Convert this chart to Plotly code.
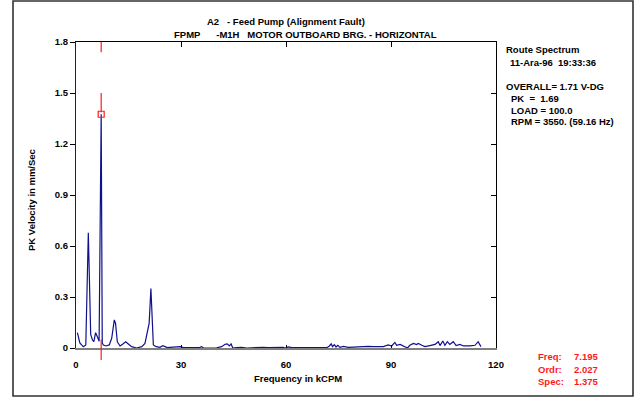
import plotly.graph_objects as go

# Spectrum trace: frequency in kCPM, PK velocity in mm/Sec
freq_kcpm = [
    0.4, 1.1, 1.6, 2.1, 2.8, 3.52, 4.2, 4.7, 5.1, 5.6, 6.1, 6.6, 7.195, 7.5, 7.8,
    8.6, 9.5, 10.2, 10.95, 11.3, 11.8, 12.6, 13.3, 14.2, 14.95, 15.9, 17.3, 18.8,
    19.7, 20.4, 20.9, 21.4, 22.1, 22.9, 24.0, 24.8, 25.4, 26.1, 26.8, 28.8, 29.7,
    30.7, 32.1, 33.5, 35.4, 35.9, 36.4, 38.3, 40.2, 41.6, 42.6, 43.2, 43.8, 44.3,
    44.8, 45.9, 47.3, 48.8, 50.2, 51.6, 53.5, 54.9, 56.3, 57.8, 59.2, 59.7, 60.7,
    61.6, 63.1, 66.4, 67.9, 71.7, 72.4, 72.9, 73.3, 73.8, 74.3, 74.8, 75.4, 76.4,
    77.8, 79.2, 80.7, 82.1, 83.5, 84.9, 85.9, 86.4, 87.8, 89.2, 90.2, 91.1, 91.6,
    92.6, 93.5, 94.7, 95.4, 96.4, 97.3, 97.8, 98.8, 99.7, 101.1, 102.6, 103.5,
    104.0, 104.8, 105.4, 106.1, 106.8, 107.8, 108.6, 109.7, 110.7, 112.6, 114.0,
    114.9, 115.7,
]
pk_velocity = [
    0.09, 0.03, 0.018, 0.008, 0.018, 0.678, 0.08, 0.047, 0.037, 0.09, 0.066, 0.04,
    1.375, 0.03, 0.018, 0.012, 0.018, 0.057, 0.165, 0.145, 0.037, 0.012, 0.022,
    0.037, 0.024, 0.008, 0.0, 0.008, 0.027, 0.106, 0.145, 0.35, 0.018, 0.008,
    0.004, 0.014, 0.008, 0.002, 0.004, 0.008, 0.008, 0.002, 0.002, 0.0, 0.004,
    0.008, 0.0, 0.0, 0.001, 0.008, 0.022, 0.024, 0.012, 0.024, 0.0, 0.002, 0.004,
    0.0, 0.002, 0.002, 0.004, 0.002, 0.004, 0.002, 0.004, 0.0, 0.006, 0.002,
    0.002, 0.002, 0.0, 0.002, 0.012, 0.024, 0.008, 0.02, 0.006, 0.016, 0.004,
    0.01, 0.004, 0.006, 0.006, 0.008, 0.01, 0.008, 0.008, 0.012, 0.008, 0.018,
    0.012, 0.033, 0.016, 0.021, 0.014, 0.0, 0.016, 0.027, 0.02, 0.027, 0.016,
    0.008, 0.014, 0.021, 0.037, 0.014, 0.041, 0.016, 0.037, 0.021, 0.037, 0.014,
    0.021, 0.012, 0.012, 0.016, 0.037, 0.008,
]

x_ticks = [0, 30, 60, 90, 120]
y_ticks = [0, 0.3, 0.6, 0.9, 1.2, 1.5, 1.8]
x_range = [0, 120]
y_range = [0, 1.8]

# Cursor readout
cursor_freq = 7.195
cursor_order = 2.027
cursor_spec = 1.375

title_lines = [
    "A2\u00a0\u00a0\u00a0- Feed Pump (Alignment Fault)",
    "FPMP\u00a0\u00a0\u00a0\u00a0\u00a0\u00a0-M1H\u00a0\u00a0\u00a0MOTOR OUTBOARD BRG. - HORIZONTAL",
]
info_lines = [
    ("Route Spectrum", 504, 49),
    ("11-Ara-96\u00a0\u00a019:33:36", 508, 62),
    ("OVERALL= 1.71 V-DG", 504, 86),
    ("PK\u00a0\u00a0=\u00a0\u00a01.69", 509, 98),
    ("LOAD = 100.0", 509, 110),
    ("RPM = 3550. (59.16 Hz)", 509, 122),
]

W, H = 637, 399
L, R, T, B = 76, 496, 42, 348   # plot area in pixels

def px(x):
    return (x - L) / (R - L)

def py(y):
    return (B - y) / (B - T)

def fx(f):
    return (f - x_range[0]) / (x_range[1] - x_range[0])

def fy(v):
    return (v - y_range[0]) / (y_range[1] - y_range[0])

FONT = "Liberation Sans, Arial, sans-serif"
NAVY = "#10108c"
RED = "#ff1a1a"

fig = go.Figure()
fig.add_trace(go.Scatter(
    x=freq_kcpm, y=pk_velocity, mode="lines",
    line=dict(color=NAVY, width=1.2), hoverinfo="skip", showlegend=False,
))
fig.add_trace(go.Scatter(
    x=[cursor_freq], y=[cursor_spec], mode="markers",
    marker=dict(symbol="square-open", size=6, color=RED, line=dict(width=1.2, color=RED)),
    cliponaxis=False, hoverinfo="skip", showlegend=False,
))

shapes = []
# cursor line segments
for v0, v1 in [(1.8, 1.74), (1.5, cursor_spec + 0.012), (0.05, -0.07)]:
    shapes.append(dict(type="line", xref="paper", yref="paper",
                       x0=fx(cursor_freq), x1=fx(cursor_freq), y0=fy(v0), y1=fy(v1),
                       line=dict(color=RED, width=1.2), layer="above"))
# outer frame
shapes.append(dict(type="rect", xref="paper", yref="paper",
                   x0=px(13), x1=px(633), y0=py(1), y1=py(396),
                   line=dict(color="#333333", width=1.6), layer="below"))

ann = []
def text(s, x, y, size=9.5, color="black", xanchor="left"):
    ann.append(dict(text=f"<b>{s}</b>", x=px(x), y=py(y), xref="paper", yref="paper",
                    xanchor=xanchor, yanchor="middle", showarrow=False,
                    font=dict(family=FONT, size=size, color=color)))

text(title_lines[0], 286, 21, xanchor="center")
text(title_lines[1], 305, 34, xanchor="center")
for s, x, y in info_lines:
    text(s, x, y)
text("Frequency in kCPM", 298, 378, xanchor="center")
ann.append(dict(text="<b>PK Velocity in mm/Sec</b>", x=px(32), y=py(200), xref="paper",
                yref="paper", textangle=-90, showarrow=False, xanchor="center",
                yanchor="middle", font=dict(family=FONT, size=9.5, color="black")))
for lab, val, y in [("Freq:", f"{cursor_freq:.3f}", 357),
                    ("Ordr:", f"{cursor_order:.3f}", 369),
                    ("Spec:", f"{cursor_spec:.3f}", 381)]:
    text(lab, 536, y, color=RED)
    text(val, 600, y, color=RED, xanchor="right")

tickfont = dict(family=FONT, size=9.5, color="black")
fig.update_layout(
    width=W, height=H,
    margin=dict(l=L, r=W - R, t=T, b=H - B, pad=0),
    paper_bgcolor="white", plot_bgcolor="white",
    showlegend=False,
    font=dict(family=FONT),
    xaxis=dict(range=x_range, tickvals=x_ticks, ticktext=[f"<b>{t}</b>" for t in x_ticks],
               showgrid=False, zeroline=False, showline=True, linecolor="#808080",
               linewidth=2, ticks="inside", ticklen=3, tickcolor="black",
               ticklabelstandoff=7, tickfont=tickfont, fixedrange=True),
    yaxis=dict(range=y_range, tickvals=y_ticks,
               ticktext=[f"<b>{t:g}</b>" for t in y_ticks],
               showgrid=False, zeroline=False, showline=True, linecolor="#222222",
               linewidth=1.2, ticks="outside", ticklen=5, tickcolor="black",
               tickfont=tickfont, fixedrange=True),
    xaxis2=dict(range=x_range, tickvals=x_ticks[1:-1], overlaying="x", side="top",
                showticklabels=False, showgrid=False, zeroline=False, showline=True,
                linecolor="black", linewidth=1.2, ticks="inside", ticklen=5,
                tickcolor="black", fixedrange=True),
    yaxis2=dict(range=y_range, tickvals=y_ticks, overlaying="y", side="right",
                showticklabels=False, showgrid=False, zeroline=False, showline=True,
                linecolor="black", linewidth=1.2, ticks="inside", ticklen=5,
                tickcolor="black", fixedrange=True),
    shapes=shapes, annotations=ann,
)
# invisible trace so the mirror axes are drawn
fig.add_trace(go.Scatter(x=[None], y=[None], xaxis="x2", yaxis="y2",
                         showlegend=False, hoverinfo="skip"))

fig.write_html("out.html")
